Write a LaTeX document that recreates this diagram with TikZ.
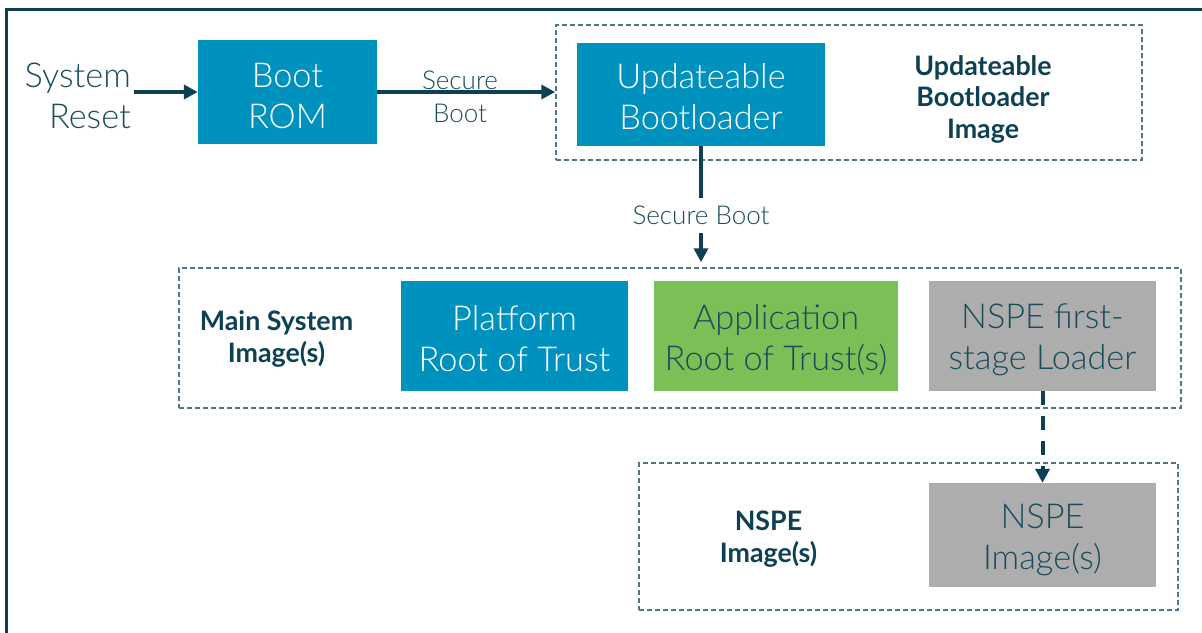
\documentclass[tikz,border=0pt]{standalone}
\usepackage{fontspec}
\setmainfont{Lato}[UprightFont=* Light, BoldFont=* Bold]
\usetikzlibrary{arrows.meta}
\definecolor{darkteal}{RGB}{13,64,82}
\definecolor{txtteal}{RGB}{26,76,92}
\definecolor{boxblue}{RGB}{0,146,190}
\definecolor{boxgreen}{RGB}{122,192,87}
\definecolor{boxgray}{RGB}{173,173,173}
\definecolor{dashcol}{RGB}{84,118,130}
\tikzset{
  box/.style={draw=none, inner sep=0pt},
  bluebox/.style={box, fill=boxblue},
  greenbox/.style={box, fill=boxgreen},
  graybox/.style={box, fill=boxgray},
  boxtext/.style={align=center, inner sep=0pt, font={\fontsize{34.3}{41}\selectfont}},
  whitetext/.style={boxtext, text=white},
  tealtext/.style={boxtext, text=txtteal},
  container/.style={draw=dashcol, line width=1.5pt, dash pattern=on 5pt off 3pt, inner sep=0pt},
  biglabel/.style={align=right, text=txtteal, font={\fontsize{34.3}{41}\selectfont}},
  smalllabel/.style={align=center, text=txtteal, font={\fontsize{26}{33}\selectfont}},
  boldlabel/.style={align=center, text=darkteal, font={\fontsize{26.8}{31.5}\selectfont\bfseries}},
  arr/.style={draw=darkteal, line width=4pt, -{Triangle[length=14pt,width=14pt]}},
  dasharr/.style={arr, dash pattern=on 14pt off 11pt}
}
\begin{document}
\begin{tikzpicture}[x=1pt,y=-1pt]
\useasboundingbox (0,0) rectangle (1202,632);
% outer frame (only top and left visible)
\coordinate (fbl) at (6.5,640);
\coordinate (ftl) at (6.5,9.5);
\coordinate (ftr) at (1210,9.5);
\draw[darkteal, line width=3pt] (fbl) -- (ftl) -- (ftr);
% containers
\node[container, minimum width=586pt, minimum height=135pt] (ublc) at (849,92.5) {};
\node[container, minimum width=1002pt, minimum height=140pt] (mainc) at (680,338) {};
\node[container, minimum width=539pt, minimum height=147pt] (nspec) at (908.5,536.5) {};
% boxes
\node[bluebox, minimum width=179pt, minimum height=104pt] (bootrom) at (287.5,92) {};
\node[whitetext] (bootromt) at ([yshift=-3.5pt]bootrom.center) {Boot\\ROM};
\node[bluebox, minimum width=248pt, minimum height=103pt] (ubl) at (701,94.5) {};
\node[whitetext] (ublt) at ([yshift=-2pt]ubl.center) {Updateable\\Bootloader};
\node[bluebox, minimum width=227pt, minimum height=110pt] (prot) at (514.5,336) {};
\node[whitetext] (prott) at ([yshift=-3pt]prot.center) {Platform\\Root of Trust};
\node[greenbox, minimum width=244pt, minimum height=110pt] (arot) at (776,336) {};
\node[tealtext] (arott) at ([yshift=-4pt]arot.center) {Application\\Root of Trust(s)};
\node[graybox, minimum width=227pt, minimum height=110pt] (fsl) at (1042.5,336) {};
\node[tealtext] (fslt) at ([yshift=-4pt]fsl.center) {NSPE first-\\stage Loader};
\node[graybox, minimum width=227pt, minimum height=104pt] (nimg) at (1042.5,535) {};
\node[tealtext] (nimgt) at ([yshift=-5pt]nimg.center) {NSPE\\Image(s)};
% labels
\node[biglabel, anchor=east, inner xsep=3pt] (sysreset) at (134,95.5) {System\\Reset};
\node[boldlabel] (ublbl) at (983,99) {Updateable\\Bootloader\\Image};
\node[boldlabel] (mainlbl) at (276.5,339) {Main System\\Image(s)};
\node[boldlabel] (nspelbl) at (768.5,539) {NSPE\\Image(s)};
% connectors
\draw[arr] (sysreset.east |- bootrom.west) -- (bootrom.west);
\draw[arr] (bootrom.east) -- (bootrom.east -| ublc.west);
\node[smalllabel] (sb1) at (460,96.5) {Secure\\Boot};
\draw[arr, shorten >=5pt] (ubl.south) -- node[pos=0.57, smalllabel, fill=white, inner xsep=2pt, inner ysep=8pt] (sb2) {Secure Boot} (ubl.south |- mainc.north);
\draw[dasharr] (fsl.south) -- (nimg.north);
\end{tikzpicture}
\end{document}
